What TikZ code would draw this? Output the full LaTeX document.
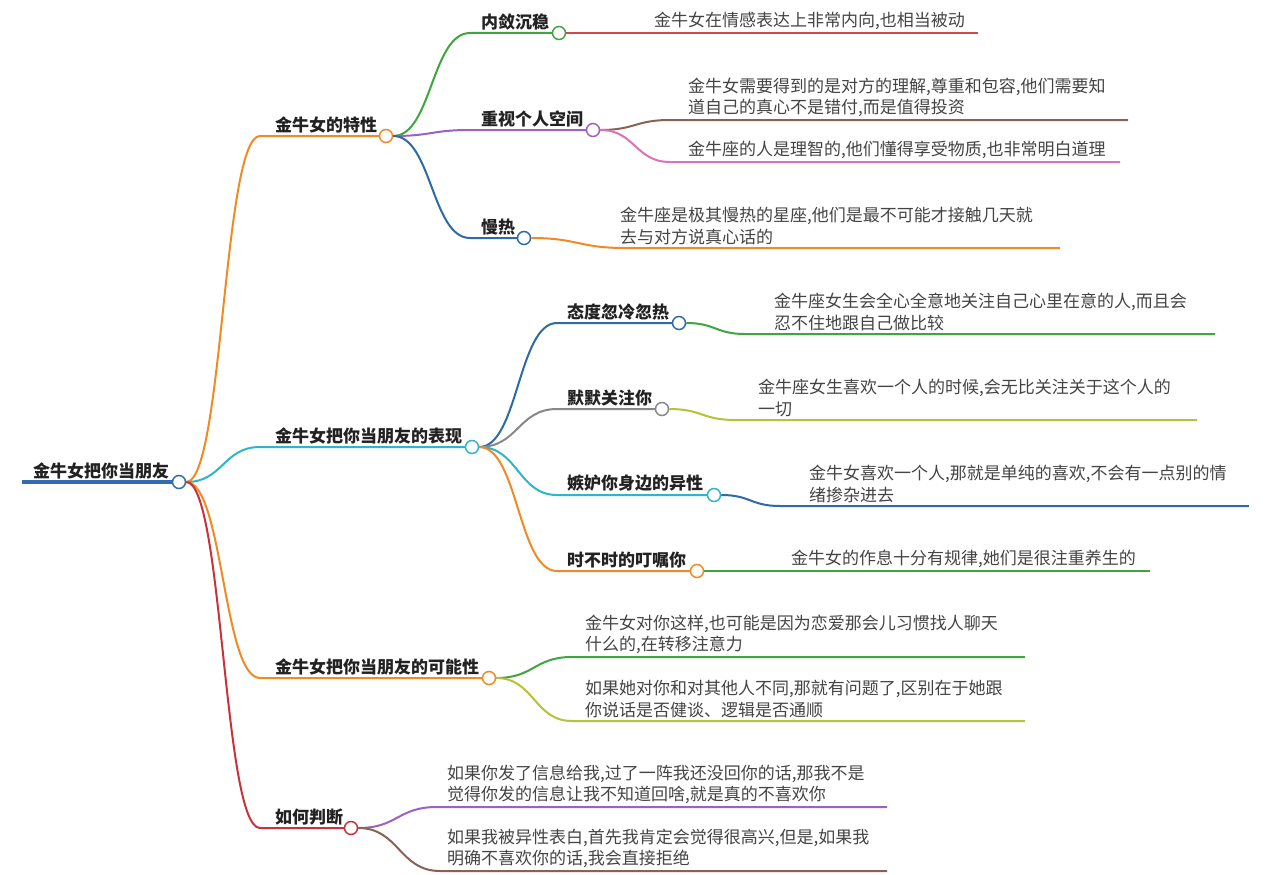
\documentclass[tikz,border=0pt]{standalone}
\usepackage{fontspec}
\setmainfont{Noto Sans CJK SC}
\usetikzlibrary{calc}
\definecolor{cRoot}{HTML}{2F6DB0}
\definecolor{cOrange}{HTML}{F08A24}
\definecolor{cCyan}{HTML}{2CB6C8}
\definecolor{cRed}{HTML}{C8323A}
\definecolor{cGreen}{HTML}{3FA53F}
\definecolor{cPurple}{HTML}{9A62C2}
\definecolor{cBlue}{HTML}{2E6AA6}
\definecolor{cBrown}{HTML}{8A6155}
\definecolor{cPink}{HTML}{DB72BA}
\definecolor{cGray}{HTML}{888888}
\definecolor{cYG}{HTML}{B6C23A}
\definecolor{cLRed}{HTML}{D0484C}
\definecolor{labcol}{HTML}{222222}
\definecolor{detcol}{HTML}{444444}
\begin{document}
\begin{tikzpicture}[x=1pt,y=-1pt,
  knob/.style={circle,draw=#1,fill=white,line width=1.5pt,minimum size=13pt,inner sep=0pt},
  br/.style={draw=#1,line width=2pt},
  lab/.style={anchor=south west,inner sep=0pt,text=labcol,font=\fontsize{17}{20}\selectfont\bfseries},
  det/.style={anchor=south west,inner sep=0pt,text=detcol,align=left,font=\fontsize{17}{21.5}\selectfont},
  scurve/.style={to path={.. controls ($(\tikztostart)!0.5!(\tikztostart -| \tikztotarget)$) and ($(\tikztotarget)!0.5!(\tikztotarget -| \tikztostart)$) .. (\tikztotarget)}}
]
\useasboundingbox (0,0) rectangle (1270,875);
\fill[white] (0,0) rectangle (1270,875);

% root
\coordinate (r0) at (22,482);
\node[knob=cRoot] (r) at (179,482) {};
\node[lab] (rt) at (33,479) {金牛女把你当朋友};
\draw[cRoot,line width=3.6pt] (r0) -- (r.west);

% level 1
\coordinate (a-s) at (260,136); \node[knob=cOrange] (a) at (386,136) {};
\coordinate (b-s) at (260,447); \node[knob=cCyan] (b) at (472,447) {};
\coordinate (c-s) at (260,678); \node[knob=cOrange] (c) at (489,678) {};
\coordinate (d-s) at (260,828); \node[knob=cRed] (d) at (351,828) {};
\draw[br=cOrange] (r.east) to[scurve] (a-s) -- (a.west);
\draw[br=cCyan] (r.east) to[scurve] (b-s) -- (b.west);
\draw[br=cOrange] (r.east) to[scurve] (c-s) -- (c.west);
\draw[br=cRed] (r.east) to[scurve] (d-s) -- (d.west);
\node[lab] (at) at (275,133) {金牛女的特性};
\node[lab] (bt) at (275,444) {金牛女把你当朋友的表现};
\node[lab] (ct) at (275,675) {金牛女把你当朋友的可能性};
\node[lab] (dt) at (275,825) {如何判断};

% level 2 under a
\coordinate (a1-s) at (470,33);  \node[knob=cGreen] (a1) at (559,33) {};
\coordinate (a2-s) at (470,130); \node[knob=cPurple] (a2) at (593,130) {};
\coordinate (a3-s) at (470,238); \node[knob=cBlue] (a3) at (524,238) {};
\draw[br=cGreen] (a.east) to[scurve] (a1-s) -- (a1.west);
\draw[br=cPurple] (a.east) to[scurve] (a2-s) -- (a2.west);
\draw[br=cBlue] (a.east) to[scurve] (a3-s) -- (a3.west);
\node[lab] (a1t) at (481,30) {内敛沉稳};
\node[lab] (a2t) at (481,127) {重视个人空间};
\node[lab] (a3t) at (481,235) {慢热};

% level 2 under b
\coordinate (b1-s) at (557,323); \node[knob=cBlue] (b1) at (679,323) {};
\coordinate (b2-s) at (557,409); \node[knob=cGray] (b2) at (662,409) {};
\coordinate (b3-s) at (557,495); \node[knob=cCyan] (b3) at (714,495) {};
\coordinate (b4-s) at (557,571); \node[knob=cOrange] (b4) at (697,571) {};
\draw[br=cBlue] (b.east) to[scurve] (b1-s) -- (b1.west);
\draw[br=cGray] (b.east) to[scurve] (b2-s) -- (b2.west);
\draw[br=cCyan] (b.east) to[scurve] (b3-s) -- (b3.west);
\draw[br=cOrange] (b.east) to[scurve] (b4-s) -- (b4.west);
\node[lab] (b1t) at (567,320) {态度忽冷忽热};
\node[lab] (b2t) at (567,406) {默默关注你};
\node[lab] (b3t) at (567,492) {嫉妒你身边的异性};
\node[lab] (b4t) at (567,568) {时不时的叮嘱你};

% details
\coordinate (e1-s) at (600,33);  \coordinate (e1-e) at (978,33);
\draw[br=cLRed] (a1.east) to[scurve] (e1-s) -- (e1-e);
\node[det] (e1) at (654,30) {金牛女在情感表达上非常内向,也相当被动};

\coordinate (e2-s) at (670,120); \coordinate (e2-e) at (1128,120);
\draw[br=cBrown] (a2.east) to[scurve] (e2-s) -- (e2-e);
\node[det] (e2) at (688,117) {金牛女需要得到的是对方的理解,尊重和包容,他们需要知\\道自己的真心不是错付,而是值得投资};

\coordinate (e3-s) at (670,162); \coordinate (e3-e) at (1120,162);
\draw[br=cPink] (a2.east) to[scurve] (e3-s) -- (e3-e);
\node[det] (e3) at (688,159) {金牛座的人是理智的,他们懂得享受物质,也非常明白道理};

\coordinate (e4-s) at (625,248); \coordinate (e4-e) at (1060,248);
\draw[br=cOrange] (a3.east) to[scurve] (e4-s) -- (e4-e);
\node[det] (e4) at (620,245) {金牛座是极其慢热的星座,他们是最不可能才接触几天就\\去与对方说真心话的};

\coordinate (f1-s) at (745,334); \coordinate (f1-e) at (1215,334);
\draw[br=cGreen] (b1.east) to[scurve] (f1-s) -- (f1-e);
\node[det] (f1) at (774,331) {金牛座女生会全心全意地关注自己心里在意的人,而且会\\忍不住地跟自己做比较};

\coordinate (f2-s) at (735,420); \coordinate (f2-e) at (1197,420);
\draw[br=cYG] (b2.east) to[scurve] (f2-s) -- (f2-e);
\node[det] (f2) at (758,417) {金牛座女生喜欢一个人的时候,会无比关注关于这个人的\\一切};

\coordinate (f3-s) at (780,506); \coordinate (f3-e) at (1249,506);
\draw[br=cBlue] (b3.east) to[scurve] (f3-s) -- (f3-e);
\node[det] (f3) at (809,503) {金牛女喜欢一个人,那就是单纯的喜欢,不会有一点别的情\\绪掺杂进去};

\coordinate (f4-s) at (740,571); \coordinate (f4-e) at (1150,571);
\draw[br=cGreen] (b4.east) to[scurve] (f4-s) -- (f4-e);
\node[det] (f4) at (791,568) {金牛女的作息十分有规律,她们是很注重养生的};

\coordinate (g1-s) at (572,657); \coordinate (g1-e) at (1025,657);
\draw[br=cGreen] (c.east) to[scurve] (g1-s) -- (g1-e);
\node[det] (g1) at (585,654) {金牛女对你这样,也可能是因为恋爱那会儿习惯找人聊天\\什么的,在转移注意力};

\coordinate (g2-s) at (572,721); \coordinate (g2-e) at (1025,721);
\draw[br=cYG] (c.east) to[scurve] (g2-s) -- (g2-e);
\node[det] (g2) at (585,718) {如果她对你和对其他人不同,那就有问题了,区别在于她跟\\你说话是否健谈、逻辑是否通顺};

\coordinate (h1-s) at (437,807); \coordinate (h1-e) at (887,807);
\draw[br=cPurple] (d.east) to[scurve] (h1-s) -- (h1-e);
\node[det] (h1) at (447,804) {如果你发了信息给我,过了一阵我还没回你的话,那我不是\\觉得你发的信息让我不知道回啥,就是真的不喜欢你};

\coordinate (h2-s) at (440,871); \coordinate (h2-e) at (887,871);
\draw[br=cBrown] (d.east) to[scurve] (h2-s) -- (h2-e);
\node[det] (h2) at (447,868) {如果我被异性表白,首先我肯定会觉得很高兴,但是,如果我\\明确不喜欢你的话,我会直接拒绝};
\end{tikzpicture}
\end{document}
